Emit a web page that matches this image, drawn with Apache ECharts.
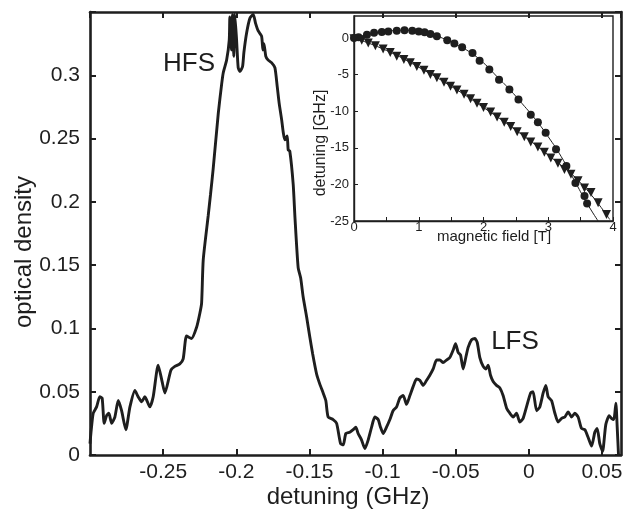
<!DOCTYPE html>
<html><head><meta charset="utf-8">
<script src="https://cdn.jsdelivr.net/npm/echarts@6/dist/echarts.min.js"></script>
<style>html,body{margin:0;padding:0;background:#fff}#c{width:642px;height:516px}</style>
</head><body><div id="c"></div>
<script>
// Main spectrum: detuning (GHz) vs optical density
const detuning = [-0.300,-0.2994,-0.2978,-0.2955,-0.2933,-0.2917,-0.2903,-0.2887,-0.2871,-0.2852,
-0.2830,-0.2807,-0.2784,-0.2755,-0.2727,-0.2693,-0.2671,-0.2647,-0.2625,-0.2591,
-0.2568,-0.2534,-0.2507,-0.2488,-0.2447,-0.2420,-0.2386,-0.2363,-0.2340,-0.2306,
-0.2271,-0.2249,-0.2237,-0.2226,-0.2192,-0.2176,-0.2158,-0.2123,-0.2100,-0.2089,
-0.2066,-0.2048,-0.2044,-0.2033,-0.2026,-0.2017,-0.2010,-0.1998,-0.1987,-0.1975,
-0.1957,-0.1948,-0.1930,-0.1907,-0.1884,-0.1868,-0.1850,-0.1827,-0.1818,-0.1811,
-0.1798,-0.1782,-0.1759,-0.1736,-0.1720,-0.1707,-0.1690,-0.1679,-0.1668,-0.1652,
-0.1645,-0.1634,-0.1611,-0.1599,-0.1577,-0.1560,-0.1543,-0.1519,-0.1497,-0.1478,
-0.1451,-0.1429,-0.1406,-0.1388,-0.1372,-0.1338,-0.1314,-0.1287,-0.1269,-0.1251,
-0.1224,-0.1201,-0.1183,-0.1167,-0.1144,-0.1121,-0.1098,-0.1075,-0.1053,-0.1030,
-0.1014,-0.0996,-0.0973,-0.0950,-0.0928,-0.0904,-0.0882,-0.0859,-0.0836,-0.0813,
-0.0791,-0.0768,-0.0745,-0.0722,-0.0699,-0.0677,-0.0654,-0.0631,-0.0608,-0.0586,
-0.0563,-0.0540,-0.0517,-0.0501,-0.0483,-0.0467,-0.0449,-0.0431,-0.0415,-0.0392,
-0.0369,-0.0353,-0.0335,-0.0312,-0.0294,-0.0278,-0.0262,-0.0244,-0.0221,-0.0198,
-0.0176,-0.0152,-0.0130,-0.0107,-0.0084,-0.0062,-0.0039,-0.0016,0.0012,0.0029,
0.0053,0.0075,0.0098,0.0116,0.0132,0.0155,0.0178,0.0200,0.0224,0.0246,
0.0269,0.0292,0.0314,0.0337,0.0360,0.0383,0.0405,0.0429,0.0451,0.0467,
0.0485,0.0504,0.0526,0.0549,0.0565,0.0581,0.0595,0.0604,0.0613];
const density = [0.009,0.017,0.033,0.038,0.046,0.045,0.025,0.031,0.033,0.025,
0.030,0.043,0.035,0.020,0.038,0.051,0.046,0.042,0.046,0.038,
0.046,0.071,0.058,0.049,0.067,0.070,0.072,0.076,0.094,0.092,
0.101,0.112,0.120,0.154,0.189,0.206,0.226,0.270,0.293,0.302,
0.312,0.328,0.346,0.320,0.348,0.315,0.348,0.328,0.306,0.303,
0.307,0.318,0.333,0.345,0.348,0.341,0.335,0.331,0.320,0.325,
0.315,0.312,0.310,0.306,0.291,0.278,0.265,0.255,0.249,0.252,
0.241,0.240,0.214,0.188,0.148,0.140,0.125,0.109,0.093,0.080,
0.064,0.056,0.049,0.043,0.030,0.028,0.025,0.009,0.008,0.017,
0.018,0.020,0.022,0.017,0.012,0.005,0.012,0.022,0.030,0.028,
0.022,0.017,0.022,0.028,0.035,0.038,0.045,0.047,0.040,0.047,
0.054,0.060,0.059,0.055,0.059,0.063,0.068,0.075,0.075,0.073,
0.075,0.077,0.083,0.088,0.081,0.079,0.068,0.077,0.085,0.091,
0.092,0.089,0.077,0.070,0.068,0.071,0.063,0.058,0.055,0.053,
0.047,0.037,0.033,0.030,0.033,0.026,0.029,0.038,0.049,0.050,
0.035,0.038,0.049,0.055,0.046,0.043,0.033,0.026,0.029,0.030,
0.034,0.030,0.033,0.030,0.021,0.020,0.014,0.007,0.018,0.021,
0.009,0.003,0.024,0.031,0.029,0.028,0.041,0.022,0.000];

// Inset: detuning [GHz] vs magnetic field [T]
const circleField = [0.0,0.07,0.2,0.31,0.43,0.53,0.66,0.78,0.9,1.0,1.09,1.18,1.28,1.44,1.55,1.67,1.83,1.94,2.09,2.24,2.4,2.54,2.73,2.84,2.96,3.12,3.28,3.42,3.56,3.6];
const circleDet   = [0.0,0.1,0.45,0.7,0.8,0.9,1.0,1.05,1.0,0.9,0.77,0.55,0.23,-0.3,-0.77,-1.27,-2.05,-3.1,-4.3,-5.7,-7.05,-8.4,-10.5,-11.5,-12.95,-15.2,-17.5,-19.8,-21.6,-22.6];
const triField = [0.0,0.12,0.22,0.33,0.45,0.56,0.66,0.77,0.87,0.97,1.08,1.18,1.28,1.39,1.49,1.59,1.7,1.8,1.9,2.0,2.11,2.21,2.32,2.42,2.52,2.63,2.73,2.84,2.94,3.04,3.15,3.25,3.35,3.46,3.56,3.66,3.77,3.9];
const triDet   = [-0.1,-0.3,-0.7,-1.05,-1.5,-2.0,-2.5,-2.95,-3.4,-3.9,-4.4,-5.0,-5.45,-6.05,-6.6,-7.1,-7.7,-8.3,-8.9,-9.5,-10.1,-10.8,-11.5,-12.1,-12.8,-13.5,-14.2,-14.9,-15.6,-16.4,-17.1,-17.95,-18.6,-19.5,-20.5,-21.1,-22.5,-24.1];
const circleFitField = [0,0.3,0.6,0.8,1.0,1.2,1.4,1.6,1.8,2.0,2.2,2.4,2.6,2.8,3.0,3.2,3.4,3.6,3.77];
const circleFitDet   = [0,0.65,1.0,1.05,0.92,0.5,-0.15,-1.0,-2.0,-3.4,-5.2,-7.0,-9.0,-11.1,-13.5,-16.2,-19.4,-22.6,-25];
const triFitField = [0,0.5,1.0,1.5,2.0,2.5,3.0,3.5,3.95];
const triFitDet   = [0,-1.7,-4.0,-6.6,-9.5,-12.6,-16.0,-19.8,-24.8];

const FONT = '"Liberation Sans", Arial, Helvetica, sans-serif';
const INK = '#1e1e1e';
const pairs = (a, b) => a.map((v, i) => [v, b[i]]);
const fmt = v => String(Number(v.toFixed(3)));

const chart = echarts.init(document.getElementById('c'));
const frameAxis = {
  axisLine: {show: true, onZero: false, lineStyle: {color: INK, width: 2.6}},
  axisTick: {show: true, inside: true, length: 6, lineStyle: {color: INK, width: 2}},
  splitLine: {show: false}
};
chart.setOption({
  animation: false,
  backgroundColor: '#fff',
  grid: [
    {left: 90, top: 12, right: 21, bottom: 61},
    {left: 354, top: 16, width: 259, height: 205, show: true, backgroundColor: '#fff', borderColor: INK, borderWidth: 1.4}
  ],
  xAxis: [
    Object.assign({type: 'value', gridIndex: 0, min: -0.3, max: 0.063, interval: 0.05, position: 'bottom',
      axisLabel: {color: INK, fontSize: 21, fontFamily: FONT, margin: 7, showMinLabel: false, showMaxLabel: false, formatter: fmt}}, frameAxis),
    Object.assign({type: 'value', gridIndex: 0, min: -0.3, max: 0.063, interval: 0.05, position: 'top', axisLabel: {show: false}}, frameAxis),
    {type: 'value', gridIndex: 1, min: 0, max: 4, interval: 1, position: 'bottom',
      axisLine: {show: true, onZero: false, lineStyle: {color: INK, width: 1.4}},
      axisTick: {show: true, inside: true, length: 4, lineStyle: {color: INK, width: 1}},
      minorTick: {show: true, splitNumber: 2, length: 4, lineStyle: {color: INK, width: 1}},
      splitLine: {show: false},
      axisLabel: {color: INK, fontSize: 13, fontFamily: FONT, margin: 0, formatter: fmt}}
  ],
  yAxis: [
    Object.assign({type: 'value', gridIndex: 0, min: 0, max: 0.35, interval: 0.05, position: 'left',
      axisLabel: {color: INK, fontSize: 21, fontFamily: FONT, margin: 10, formatter: v => v > 0.349 ? '' : fmt(v)}}, frameAxis),
    Object.assign({type: 'value', gridIndex: 0, min: 0, max: 0.35, interval: 0.05, position: 'right', axisLabel: {show: false}}, frameAxis),
    {type: 'value', gridIndex: 1, min: -25, max: 3, interval: 5, position: 'left',
      axisLine: {show: true, onZero: false, lineStyle: {color: INK, width: 1.4}},
      axisTick: {show: true, inside: true, length: 4, lineStyle: {color: INK, width: 1}},
      splitLine: {show: false},
      axisLabel: {color: INK, fontSize: 13, fontFamily: FONT, margin: 5, showMaxLabel: false, formatter: fmt}}
  ],
  series: [
    {type: 'line', xAxisIndex: 0, yAxisIndex: 0, data: pairs(detuning, density), showSymbol: false, symbol: 'none',
      smooth: 0.2, lineStyle: {color: INK, width: 2.9}, clip: true},
    {type: 'line', xAxisIndex: 2, yAxisIndex: 2, data: pairs(circleFitField, circleFitDet), symbol: 'none', smooth: true,
      lineStyle: {color: INK, width: 1}, z: 3},
    {type: 'line', xAxisIndex: 2, yAxisIndex: 2, data: pairs(triFitField, triFitDet), symbol: 'none', smooth: true,
      lineStyle: {color: INK, width: 1}, z: 3},
    {type: 'scatter', xAxisIndex: 2, yAxisIndex: 2, data: pairs(circleField, circleDet), symbol: 'circle', symbolSize: 8,
      itemStyle: {color: INK, opacity: 1}, z: 4},
    {type: 'scatter', xAxisIndex: 2, yAxisIndex: 2, data: pairs(triField, triDet), symbol: 'triangle', symbolSize: 9, symbolRotate: 180,
      itemStyle: {color: INK, opacity: 1}, z: 4}
  ],
  graphic: [
    {type: 'text', x: 24, y: 252, rotation: Math.PI / 2,
      style: {text: 'optical density', font: '24px ' + FONT, fill: INK, align: 'center', verticalAlign: 'middle'}},
    {type: 'text', x: 348, y: 497, style: {text: 'detuning (GHz)', font: '24px ' + FONT, fill: INK, align: 'center', verticalAlign: 'middle'}},
    {type: 'text', x: 189, y: 64, style: {text: 'HFS', font: '26px ' + FONT, fill: INK, align: 'center', verticalAlign: 'middle'}},
    {type: 'text', x: 515, y: 342, style: {text: 'LFS', font: '26px ' + FONT, fill: INK, align: 'center', verticalAlign: 'middle'}},
    {type: 'text', x: 321, y: 143, rotation: Math.PI / 2, z: 10,
      style: {text: 'detuning [GHz]', font: '16px ' + FONT, fill: INK, align: 'center', verticalAlign: 'middle'}},
    {type: 'text', x: 494, y: 237, z: 10, style: {text: 'magnetic field [T]', font: '15px ' + FONT, fill: INK, align: 'center', verticalAlign: 'middle'}}
  ]
});
</script>
</body></html>
